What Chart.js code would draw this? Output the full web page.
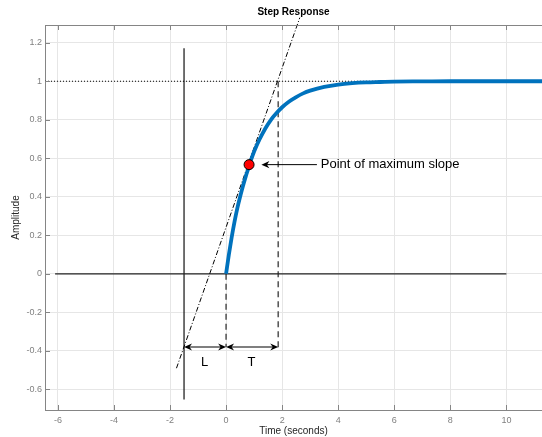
<!DOCTYPE html>
<html>
<head>
<meta charset="utf-8">
<script src="https://cdn.jsdelivr.net/npm/chart.js@4/dist/chart.umd.min.js"></script>
<style>
  html, body { margin: 0; padding: 0; background: #fff; overflow: hidden; }
  #wrap { width: 542px; height: 437px; }
</style>
</head>
<body>
<div id="wrap"><canvas id="stepChart" width="542" height="437"></canvas></div>
<script>
// step response samples
const timeSec   = [0, 0.1, 0.2, 0.3, 0.4, 0.5, 0.6, 0.7, 0.8, 0.9, 1.0, 1.2, 1.4, 1.6, 1.8, 2.0, 2.25, 2.5, 2.75, 3.0, 3.5, 4.0, 4.5, 5.0, 5.5, 6.0, 7.0, 8.0, 9.0, 10.0, 11.3];
const amplitude = [0, 0.10, 0.19, 0.27, 0.34, 0.40, 0.455, 0.505, 0.55, 0.595, 0.635, 0.70, 0.755, 0.80, 0.835, 0.865, 0.895, 0.918, 0.937, 0.951, 0.971, 0.983, 0.99, 0.994, 0.996, 0.998, 0.999, 1.0, 1.0, 1.0, 1.0];

// tangent through the inflection point
const tangentT = [-1.77, 2.63];
const tangentY = [-0.49, 1.33];
const maxSlopePoint = [0.82, 0.567];

// construction lines
const zeroLineT = [-6.1, 10];
const finalValue = 1;
const delayLineT = -1.5;
const delayLineY = [-0.653, 1.171];
const stepStartT = 0;
const stepStartY = [0, -0.38];
const tauEndT = 1.86;
const tauEndY = [1, -0.40];

// L / T spans and the pointer to the marker
const spanL = [-1.5, 0];
const spanT = [0, 1.86];
const spanY = -0.38;
const spanLabelsT = [-0.77, 0.91];
const spanLabelY = -0.462;
const pointerT = [3.24, 1.26];
const pointerLabelT = 3.38;

// axes
const xRange = [-6.46, 11.27];
const yRange = [-0.707, 1.292];
const xTicks = [-6, -4, -2, 0, 2, 4, 6, 8, 10];
const yTicks = [-0.6, -0.4, -0.2, 0, 0.2, 0.4, 0.6, 0.8, 1, 1.2];

const FONT = "'Liberation Sans', Arial, Helvetica, sans-serif";
const AXIS_GREY = '#858585';

const pts = (xs, ys) => xs.map((v, i) => ({ x: v, y: ys[i] }));

function arrowHead(ctx, tipX, tipY, dir) {
    const len = 8, half = 3.6, notch = 5.5;
    ctx.beginPath();
    ctx.moveTo(tipX, tipY);
    ctx.lineTo(tipX - dir * len, tipY - half);
    ctx.lineTo(tipX - dir * notch, tipY);
    ctx.lineTo(tipX - dir * len, tipY + half);
    ctx.closePath();
    ctx.fill();
}

// no extra room for edge tick labels, the box runs to the canvas edge
function noEdgePadding(scale) {
    scale.paddingLeft = 0;
    scale.paddingRight = 0;
    scale.paddingTop = 0;
    scale.paddingBottom = 0;
}

const annotations = {
    id: 'annotations',
    afterDatasetsDraw(chart) {
        const { ctx, scales: { x, y } } = chart;
        ctx.save();
        ctx.strokeStyle = '#000';
        ctx.fillStyle = '#000';
        ctx.lineWidth = 1.2;

        // double arrows for L and T
        const ay = y.getPixelForValue(spanY);
        [spanL, spanT].forEach(([a, b]) => {
            const x1 = x.getPixelForValue(a), x2 = x.getPixelForValue(b);
            ctx.beginPath();
            ctx.moveTo(x1 + 5, ay);
            ctx.lineTo(x2 - 5, ay);
            ctx.stroke();
            arrowHead(ctx, x1, ay, -1);
            arrowHead(ctx, x2, ay, 1);
        });

        ctx.font = '13px ' + FONT;
        ctx.textAlign = 'center';
        ctx.textBaseline = 'middle';
        const ly = y.getPixelForValue(spanLabelY);
        ctx.fillText('L', x.getPixelForValue(spanLabelsT[0]), ly);
        ctx.fillText('T', x.getPixelForValue(spanLabelsT[1]), ly);

        // pointer to the max slope marker
        const py = y.getPixelForValue(maxSlopePoint[1]);
        const p1 = x.getPixelForValue(pointerT[0]), p2 = x.getPixelForValue(pointerT[1]);
        ctx.lineWidth = 1;
        ctx.beginPath();
        ctx.moveTo(p1, py);
        ctx.lineTo(p2 + 5, py);
        ctx.stroke();
        arrowHead(ctx, p2, py, -1);

        ctx.textAlign = 'left';
        ctx.fillText('Point of maximum slope', x.getPixelForValue(pointerLabelT), py);
        ctx.restore();
    },
    afterDraw(chart) {
        const { ctx, chartArea: a, scales: { x, y } } = chart;
        ctx.save();
        ctx.strokeStyle = AXIS_GREY;
        ctx.lineWidth = 1;

        // top edge of the box
        ctx.beginPath();
        ctx.moveTo(a.left, a.top + 0.5);
        ctx.lineTo(a.right, a.top + 0.5);
        ctx.stroke();

        // tick marks pointing inward
        ctx.beginPath();
        xTicks.forEach(v => {
            const px = Math.round(x.getPixelForValue(v)) + 0.5;
            ctx.moveTo(px, a.bottom); ctx.lineTo(px, a.bottom - 5);
            ctx.moveTo(px, a.top); ctx.lineTo(px, a.top + 5);
        });
        yTicks.forEach(v => {
            const py = Math.round(y.getPixelForValue(v)) + 0.5;
            ctx.moveTo(a.left, py); ctx.lineTo(a.left + 5, py);
        });
        ctx.stroke();

        ctx.fillStyle = '#000';
        ctx.font = 'bold 10px ' + FONT;
        ctx.textAlign = 'center';
        ctx.textBaseline = 'middle';
        ctx.fillText('Step Response', (a.left + a.right) / 2, 12.5);
        ctx.restore();
    }
};

const straight = { tension: 0, pointRadius: 0, borderWidth: 1, fill: false };

new Chart(document.getElementById('stepChart'), {
    type: 'line',
    data: {
        datasets: [
            {
                data: pts([maxSlopePoint[0]], [maxSlopePoint[1]]),
                showLine: false,
                pointRadius: 5,
                pointBackgroundColor: '#ff0000',
                pointBorderColor: '#000',
                pointBorderWidth: 1,
                order: 0
            },
            {
                data: pts(timeSec, amplitude),
                borderColor: '#0072bd',
                borderWidth: 3.8,
                pointRadius: 0,
                cubicInterpolationMode: 'monotone',
                fill: false,
                order: 1
            },
            {
                ...straight,
                data: pts(tangentT, tangentY),
                borderColor: '#000',
                borderDash: [5, 2, 1, 2],
                clip: false,
                order: 2
            },
            {
                ...straight,
                data: pts(xRange, [finalValue, finalValue]),
                borderColor: '#000',
                borderDash: [1, 2],
                order: 3
            },
            {
                ...straight,
                data: pts(zeroLineT, [0, 0]),
                borderColor: '#222',
                borderWidth: 1.3,
                order: 4
            },
            {
                ...straight,
                data: pts([delayLineT, delayLineT], delayLineY),
                borderColor: '#111',
                borderWidth: 1.2,
                order: 5
            },
            {
                ...straight,
                data: pts([stepStartT, stepStartT], stepStartY),
                borderColor: '#5a5a5a',
                borderWidth: 1.6,
                borderDash: [6, 4],
                order: 6
            },
            {
                ...straight,
                data: pts([tauEndT, tauEndT], tauEndY),
                borderColor: '#5a5a5a',
                borderWidth: 1.6,
                borderDash: [6, 4],
                order: 7
            }
        ]
    },
    options: {
        responsive: false,
        animation: false,
        devicePixelRatio: 1,
        layout: { autoPadding: false, padding: { top: 25, right: 0, left: 0, bottom: 0 } },
        plugins: {
            legend: { display: false },
            tooltip: { enabled: false },
            title: { display: false }
        },
        scales: {
            x: {
                type: 'linear',
                min: xRange[0],
                max: xRange[1],
                afterBuildTicks: scale => { scale.ticks = xTicks.map(v => ({ value: v })); },
                afterFit: scale => { scale.height = 27; noEdgePadding(scale); },
                grid: { color: '#e6e6e6', lineWidth: 1, drawTicks: false },
                border: { display: true, color: AXIS_GREY, width: 1 },
                ticks: {
                    color: '#808080',
                    padding: 5,
                    maxRotation: 0,
                    font: { family: FONT, size: 9 },
                    callback: v => String(v)
                },
                title: {
                    display: true,
                    text: 'Time (seconds)',
                    color: '#262626',
                    font: { family: FONT, size: 10 },
                    padding: { top: 2, bottom: 0 }
                }
            },
            y: {
                type: 'linear',
                min: yRange[0],
                max: yRange[1],
                afterBuildTicks: scale => { scale.ticks = yTicks.map(v => ({ value: v })); },
                afterFit: scale => { scale.width = 45; noEdgePadding(scale); },
                grid: { color: '#e6e6e6', lineWidth: 1, drawTicks: false },
                border: { display: true, color: AXIS_GREY, width: 1 },
                ticks: {
                    color: '#808080',
                    padding: 3,
                    font: { family: FONT, size: 9 },
                    callback: v => String(v)
                },
                title: {
                    display: true,
                    text: 'Amplitude',
                    color: '#262626',
                    font: { family: FONT, size: 10 },
                    padding: { top: 10, bottom: 0 }
                }
            }
        }
    },
    plugins: [annotations]
});
</script>
</body>
</html>
